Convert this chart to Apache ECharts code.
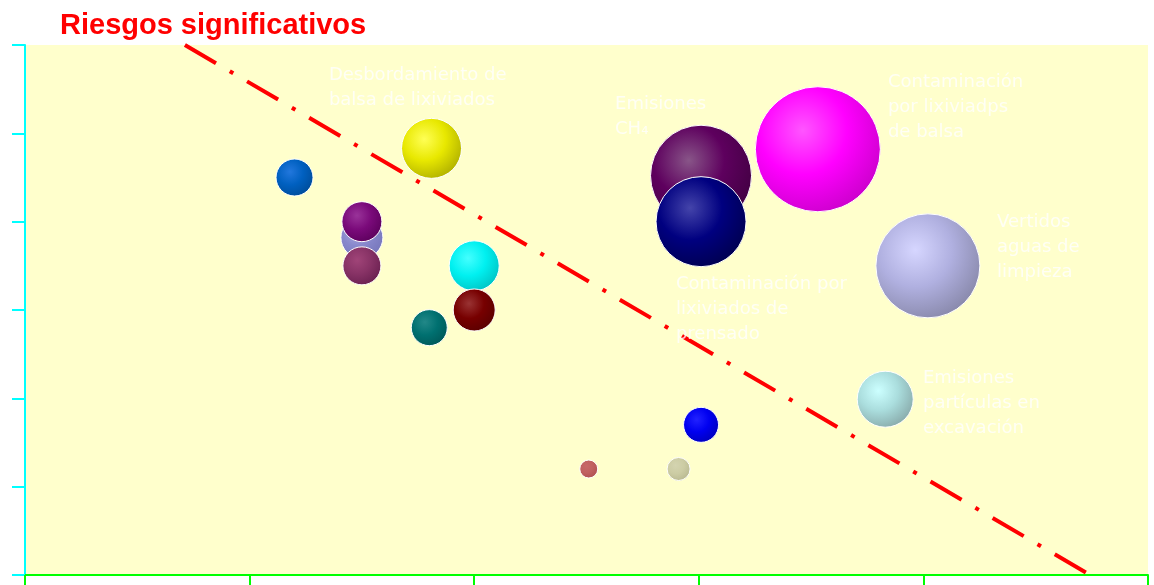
<!DOCTYPE html>
<html>
<head>
<meta charset="utf-8">
<title>Riesgos significativos</title>
<script src="https://cdn.jsdelivr.net/npm/echarts@6/dist/echarts.min.js"></script>
<style>
  html, body { margin: 0; padding: 0; background: #fff; }
  #chart { width: 1154px; height: 585px; }
</style>
</head>
<body>
<div id="chart"></div>
<script>
// valores: [x, y, magnitud]
const bubbleX = [1.2, 1.81, 1.5, 1.5, 1.5, 2.0, 2.0, 1.8, 3.01, 3.01, 3.53, 4.02, 3.83, 3.01, 2.51, 2.91]
const bubbleY = [4.5, 4.83, 3.82, 4.0, 3.5, 3.5, 3.0, 2.8, 4.52, 4.0, 4.82, 3.5, 1.99, 1.7, 1.2, 1.2]
const bubbleMag = [3.7, 6.0, 4.2, 4.0, 3.8, 5.0, 4.2, 3.6, 10.1, 9.0, 12.5, 10.4, 5.6, 3.5, 1.8, 2.3]

// colores: [brillo, base, borde]
const bubbleColors = [
    ['#2277dd', '#0060c0', '#004c99'],
    ['#ffff55', '#e8e800', '#b0b000'],
    ['#aaaadd', '#8888cc', '#7777bb'],
    ['#993399', '#7a0a7a', '#5c005c'],
    ['#a04478', '#883366', '#6a2050'],
    ['#44ffff', '#00f0f0', '#00c4c4'],
    ['#993333', '#770000', '#5a0000'],
    ['#228888', '#007070', '#005858'],
    ['#885588', '#5e005e', '#420042'],
    ['#4444aa', '#000080', '#000050'],
    ['#ff55ff', '#ff00ff', '#cc00cc'],
    ['#d6d6ff', '#b0b0e0', '#8888aa'],
    ['#ccffff', '#aadddd', '#88aaaa'],
    ['#2222ff', '#0000f0', '#0000bb'],
    ['#c86868', '#c06060', '#b05050'],
    ['#d4d4b0', '#cccca4', '#b8b890']
]

// linea de riesgo (punta superior e inferior)
const riskLineX = [0.712, 4.742]
const riskLineY = [6, 0]

// etiquetas: esquina superior izquierda en coordenadas de datos
const labelX = [1.353, 2.627, 3.842, 4.328, 2.898, 3.998]
const labelY = [5.80, 5.47, 5.72, 4.13, 3.43, 2.37]
const labelText = [
    'Desbordamiento de\nbalsa de lixiviados',
    'Emisiones\nCH\u2084',
    'Contaminación\npor lixiviadps\nde balsa',
    'Vertidos\naguas de\nlimpieza',
    'Contaminación por\nlixiviados de\nprensado',
    'Emisiones\npartículas en\nexcavación'
]

const chart = echarts.init(document.getElementById('chart'), null, { renderer: 'canvas' })

const bubbleData = bubbleX.map((x, i) => {
    const c = bubbleColors[i]
    return {
        value: [x, bubbleY[i], bubbleMag[i]],
        itemStyle: {
            color: {
                type: 'radial', x: 0.38, y: 0.35, r: 0.7,
                colorStops: [
                    { offset: 0, color: c[0] },
                    { offset: 0.5, color: c[1] },
                    { offset: 1, color: c[2] }
                ]
            }
        }
    }
})

const option = {
    animation: false,
    title: {
        text: 'Riesgos significativos',
        left: 55,
        top: 6,
        textStyle: {
            color: '#ff0000',
            fontSize: 29,
            fontWeight: 'bold',
            fontFamily: 'Liberation Sans, Arial, sans-serif'
        }
    },
    grid: {
        left: 25,
        top: 45,
        right: 6,
        bottom: 10,
        show: true,
        backgroundColor: '#ffffcc',
        borderWidth: 0,
        outerBoundsMode: 'none'
    },
    xAxis: {
        type: 'value',
        min: 0,
        max: 5,
        interval: 1,
        axisLine: { show: true, onZero: false, lineStyle: { color: '#00ff00', width: 2 } },
        axisTick: { show: true, length: 12, lineStyle: { color: '#00ff00', width: 2 } },
        axisLabel: { show: false },
        splitLine: { show: false }
    },
    yAxis: {
        type: 'value',
        min: 0,
        max: 6,
        interval: 1,
        axisLine: { show: true, onZero: false, lineStyle: { color: '#00ffff', width: 2 } },
        axisTick: { show: true, length: 13, lineStyle: { color: '#00ffff', width: 2 } },
        axisLabel: { show: false },
        splitLine: { show: false }
    },
    series: [
        {
            type: 'line',
            silent: true,
            symbol: 'none',
            data: riskLineX.map((x, i) => [x, riskLineY[i]]),
            lineStyle: { color: '#ff0000', width: 4, type: [36, 16, 4, 16], cap: 'butt' },
            z: 1
        },
        {
            type: 'scatter',
            silent: true,
            data: bubbleData,
            symbolSize: v => v[2] * 10,
            itemStyle: { opacity: 1, borderColor: '#ffffff', borderWidth: 1 },
            z: 2
        },
        {
            type: 'scatter',
            silent: true,
            symbolSize: 0,
            data: labelX.map((x, i) => ({ value: [x, labelY[i]], name: labelText[i] })),
            label: {
                show: true,
                position: [0, 0],
                align: 'left',
                verticalAlign: 'top',
                formatter: p => p.name,
                color: '#ffffff',
                fontSize: 18,
                lineHeight: 25,
                fontFamily: 'DejaVu Sans, sans-serif'
            },
            z: 3
        }
    ]
}

chart.setOption(option)
</script>
</body>
</html>
